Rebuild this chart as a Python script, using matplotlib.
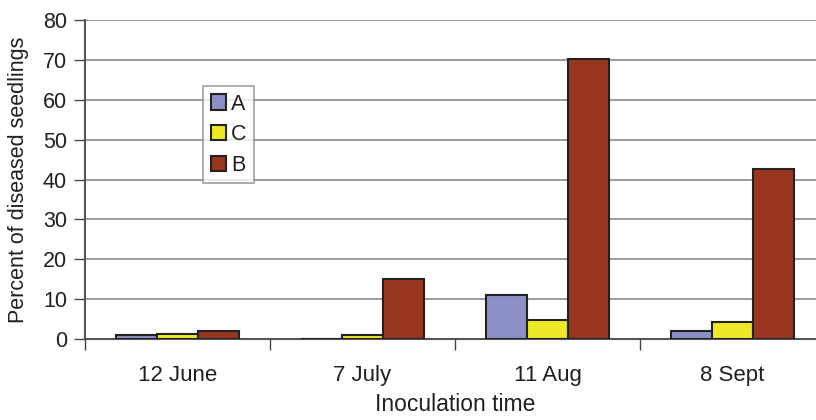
"""Percent of diseased seedlings by inoculation time"""
import matplotlib.pyplot as plt
import numpy as np

plt.rcParams["font.family"] = ["Liberation Sans", "DejaVu Sans"]
plt.rcParams["text.color"] = "#231F20"
plt.rcParams["xtick.labelcolor"] = "#231F20"
plt.rcParams["ytick.labelcolor"] = "#231F20"
plt.rcParams["axes.labelcolor"] = "#231F20"

dates = ["12 June", "7 July", "11 Aug", "8 Sept"]
series = ["A", "C", "B"]
vals_a = [1.0, 0.0, 11.1, 2.0]
vals_c = [1.2, 1.0, 4.8, 4.3]
vals_b = [2.0, 15.0, 70.3, 42.7]
colors = ["#8C8FC6", "#EEE827", "#98361F"]

fig = plt.figure(figsize=(8.16, 4.2), dpi=100)
ax = fig.add_axes([85 / 816, 1 - 339 / 420, 740 / 816, 319 / 420])

x = np.arange(len(dates))
w = 0.222
for i, (name, vals) in enumerate(zip(series, [vals_a, vals_c, vals_b])):
    ax.bar(x + (i - 1) * w, vals, width=w, color=colors[i], edgecolor="#222222",
           linewidth=1.5, label=name, zorder=3)

ax.set_xlim(-0.5, len(dates) - 0.5)
ax.set_ylim(0, 80)
ax.set_yticks(np.arange(0, 81, 10))
ax.yaxis.grid(True, color="#8a8a8a", linewidth=1.2, zorder=0)
ax.set_xticks(x)
ax.set_xticklabels(dates)
ax.set_xticks(np.arange(-0.5, len(dates), 1), minor=True)
ax.tick_params(axis="x", which="major", length=0, pad=19, labelsize=16)
ax.tick_params(axis="x", which="minor", length=8, width=1, color="#444444")
ax.tick_params(axis="y", length=8, width=1, color="#444444", labelsize=15.5, pad=5)
for s in ["top", "right"]:
    ax.spines[s].set_visible(False)
ax.spines["left"].set_color("#555555")
ax.spines["left"].set_linewidth(1.5)
ax.spines["bottom"].set_color("#555555")
ax.spines["bottom"].set_linewidth(1.5)

ax.set_ylabel("Percent of diseased seedlings", fontsize=15.5, labelpad=10)
ax.set_xlabel("Inoculation time", fontsize=16.5, labelpad=5)

leg = ax.legend(loc="upper left", bbox_to_anchor=(118 / 740, 1 - 66 / 319),
                fontsize=15.5, frameon=True, fancybox=False, handlelength=0.7,
                handleheight=0.7, handletextpad=0.25, labelspacing=0.45,
                borderpad=0.35, borderaxespad=0)
leg.get_frame().set_edgecolor("#888888")
leg.get_frame().set_linewidth(1.2)

plt.savefig("out.png", dpi=100)
